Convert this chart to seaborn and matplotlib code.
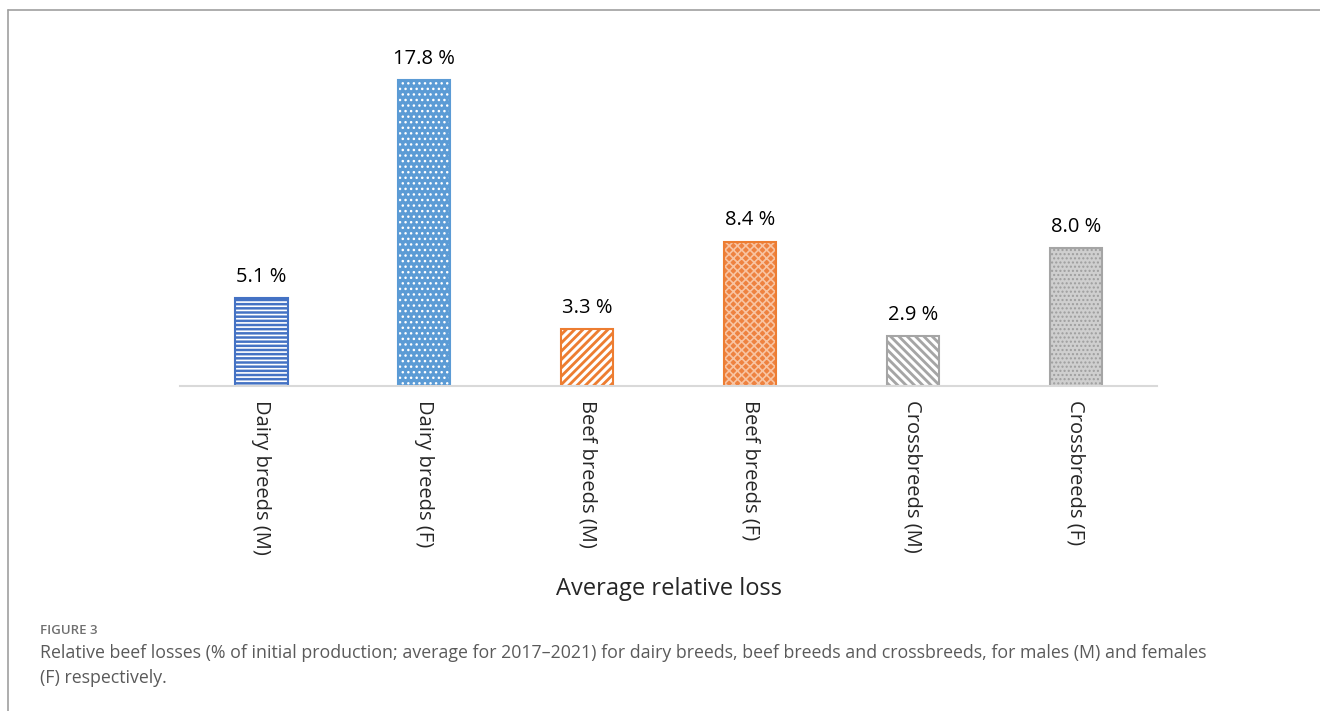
import matplotlib
matplotlib.use("Agg")
import matplotlib.pyplot as plt
from matplotlib.patches import Rectangle
from matplotlib.lines import Line2D
import seaborn as sns
import pandas as pd

categories = ["Dairy breeds (M)", "Dairy breeds (F)", "Beef breeds (M)",
              "Beef breeds (F)", "Crossbreeds (M)", "Crossbreeds (F)"]
losses = [5.1, 17.8, 3.3, 8.4, 2.9, 8.0]
value_labels = ["5.1 %", "17.8 %", "3.3 %", "8.4 %", "2.9 %", "8.0 %"]

face_colors = ["#4472C4", "#5B9BD5", "#ED7D31", "#EE8240", "#A5A5A5", "#CFCFCF"]
hatch_colors = ["white", "white", "white", "#F8C4A2", "white", "#9E9E9E"]
border_colors = ["#4472C4", "#5B9BD5", "#ED7D31", "#ED7D31", "#A5A5A5", "#A5A5A5"]
hatches = ["----", "...", "////", "xxxx", "\\\\\\\\", "...."]
hatch_widths = [1.2, 1.0, 2.2, 1.2, 2.2, 1.0]

sns.set_style("white")
plt.rcParams["font.family"] = ["Open Sans", "DejaVu Sans"]
plt.rcParams["hatch.linewidth"] = 1.5

df = pd.DataFrame({"category": categories, "loss": losses})

fig = plt.figure(figsize=(13.2, 7.11), dpi=100)
ax = fig.add_axes([0.1364, 0.4571, 0.7402, 0.4838])

sns.barplot(data=df, x="category", y="loss", hue="category", saturation=1,
            palette=face_colors, width=0.32, legend=False, ax=ax)

for i, bar in enumerate(ax.patches):
    bar.set_hatch(hatches[i])
    bar.set_edgecolor(hatch_colors[i])
    bar.set_linewidth(0)
    if hasattr(bar, "set_hatch_linewidth"):
        bar.set_hatch_linewidth(hatch_widths[i])
    ax.add_patch(Rectangle(bar.get_xy(), bar.get_width(), bar.get_height(),
                           fill=False, edgecolor=border_colors[i], linewidth=1.5))
    ax.annotate(value_labels[i], (bar.get_x() + bar.get_width() / 2, bar.get_height()),
                xytext=(0, 8), textcoords="offset points", ha="center", va="bottom",
                fontsize=14.5, color="black")

ax.set_xlim(-0.5, 5.5)
ax.set_ylim(0, 20)
ax.set_yticks([])
ax.set_ylabel("")
ax.set_xlabel("Average relative loss", fontsize=17, labelpad=16)
ax.tick_params(axis="x", length=0, pad=10)
ax.set_xticks(range(len(categories)))
ax.set_xticklabels(categories, rotation=270, ha="center", va="top", fontsize=14.5)
for side in ["top", "left", "right"]:
    ax.spines[side].set_visible(False)
ax.spines["bottom"].set_color("#D9D9D9")
ax.spines["bottom"].set_linewidth(1.5)

# page frame
fig.add_artist(Line2D([8 / 1320, 1], [1 - 10 / 711, 1 - 10 / 711], color="#A0A0A0", lw=1.2))
fig.add_artist(Line2D([8 / 1320, 8 / 1320], [0, 1 - 10 / 711], color="#A0A0A0", lw=1.2))

fig.text(40 / 1320, 1 - 630 / 711, "FIGURE 3", fontsize=9.5, color="#707070",
         va="center", fontweight="semibold")
fig.text(40 / 1320, 1 - 653 / 711,
         "Relative beef losses (% of initial production; average for 2017\u20132021) for dairy breeds, "
         "beef breeds and crossbreeds, for males (M) and females",
         fontsize=12.8, color="#5A5A5A", va="center")
fig.text(40 / 1320, 1 - 678 / 711, "(F) respectively.", fontsize=12.8, color="#5A5A5A", va="center")

fig.savefig("out.png", dpi=100)
